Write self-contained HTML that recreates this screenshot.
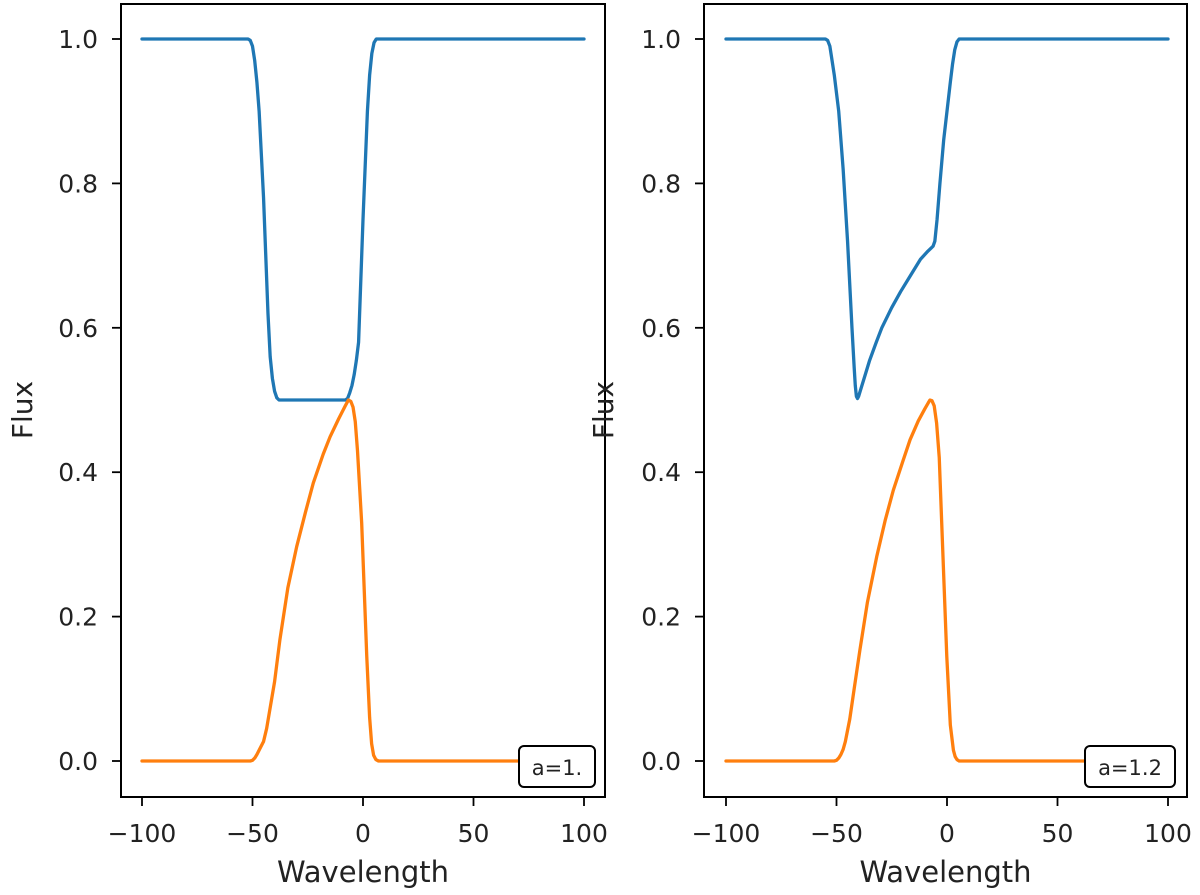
<!DOCTYPE html>
<html><head><meta charset="utf-8"><style>
body{margin:0;background:#fff}
svg{display:block;font-family:"DejaVu Sans","Liberation Sans",sans-serif}
</style></head><body>
<svg id="fig" width="1200" height="895" viewBox="0 0 1200 895"></svg>
<script>
const xTicks=[-100,-50,0,50,100];
const yTicks=[0.0,0.2,0.4,0.6,0.8,1.0];
const yTickLabels=["0.0","0.2","0.4","0.6","0.8","1.0"];
const leftBlueX=[-100,-52,-51,-50,-49,-48,-47,-45,-43,-42,-41,-40,-39,-38,-8,-7,-6,-5,-4,-3,-2,0,2,3,4,5,6,100];
const leftBlueY=[1,1,0.998,0.99,0.97,0.94,0.9,0.78,0.62,0.56,0.53,0.512,0.503,0.5,0.5,0.502,0.51,0.52,0.535,0.555,0.58,0.75,0.9,0.95,0.98,0.995,1,1];
const leftOrangeX=[-100,-51,-50,-49,-48,-47,-45,-43.6,-40,-37.6,-34,-30,-26,-22.5,-18,-14.9,-11,-8,-6.6,-5.5,-4.5,-3.5,-2.5,-0.6,1.7,3,3.9,4.8,5.8,7,100];
const leftOrangeY=[0,0,0.001,0.004,0.009,0.015,0.027,0.045,0.11,0.168,0.24,0.297,0.345,0.385,0.425,0.449,0.474,0.492,0.5,0.498,0.49,0.47,0.43,0.33,0.145,0.06,0.024,0.008,0.002,0,0];
const rightBlueX=[-100,-55,-54,-53,-52,-51,-49,-47,-45,-43,-42,-41.5,-41,-40.5,-40,-39,-37,-35,-32,-29.5,-25,-21,-16,-12,-9,-7,-6.3,-5.5,-4.5,-3.2,-1.5,0,1.5,2.5,3.5,4.5,5.5,100];
const rightBlueY=[1,1,0.998,0.99,0.97,0.95,0.9,0.82,0.72,0.6,0.545,0.52,0.505,0.502,0.505,0.515,0.535,0.555,0.58,0.6,0.628,0.65,0.675,0.695,0.705,0.711,0.713,0.72,0.75,0.8,0.86,0.9,0.94,0.965,0.985,0.996,1,1];
const rightOrangeX=[-100,-51,-50,-49,-48,-47,-46,-44,-42,-39.4,-36,-31.8,-28,-24.3,-20,-16.7,-13,-10,-8.5,-7.7,-6.8,-5.8,-4.7,-3.5,-2.4,-0.1,1.5,2.9,3.7,4.5,5.5,100];
const rightOrangeY=[0,0,0.001,0.004,0.009,0.016,0.027,0.058,0.1,0.154,0.22,0.283,0.333,0.375,0.415,0.445,0.471,0.488,0.496,0.5,0.499,0.492,0.468,0.42,0.33,0.145,0.05,0.015,0.006,0.002,0,0];
const panels=[
 {name:'left',L:121,R:605,x0:142,label:'a=1.',bx:[leftBlueX,leftBlueY],or:[leftOrangeX,leftOrangeY],ylabX:32,tickLabR:98,legX:519,legW:76},
 {name:'right',L:704,R:1187,x0:726,label:'a=1.2',bx:[rightBlueX,rightBlueY],or:[rightOrangeX,rightOrangeY],ylabX:613,tickLabR:681,legX:1085,legW:90}
];
const T=4,B=797,Y1=39,Y0=761,XS=2.21;
const NS='http://www.w3.org/2000/svg';
const svg=document.getElementById('fig');
function mk(tag,attrs,parent){const e=document.createElementNS(NS,tag);for(const k in attrs)e.setAttribute(k,attrs[k]);(parent||svg).appendChild(e);return e;}
function pathFrom(xs,ys,sx,sy){
 return xs.map((x,i)=>(i?'L':'M')+sx(x).toFixed(2)+','+sy(ys[i]).toFixed(2)).join(' ');
}
panels.forEach(p=>{
 const sx=x=>p.x0+(x+100)*XS;
 const sy=y=>Y0-(y)*(Y0-Y1);
 const g=mk('g',{});
 
 
 const blue=mk('path',{d:pathFrom(p.bx[0],p.bx[1],sx,sy),fill:'none',stroke:'#1f77b4','stroke-width':3.3,'stroke-linejoin':'round','stroke-linecap':'round'},g);
 
 
 const orng=mk('path',{d:pathFrom(p.or[0],p.or[1],sx,sy),fill:'none',stroke:'#ff7f0e','stroke-width':3.3,'stroke-linejoin':'round','stroke-linecap':'round'},g);
 
 
 const fr=mk('rect',{x:p.L,y:T,width:p.R-p.L,height:B-T,fill:'none',stroke:'#000','stroke-width':2},g);
 
 
 xTicks.forEach(v=>{
  mk('line',{x1:sx(v),x2:sx(v),y1:B,y2:B+9,stroke:'#000','stroke-width':1.8},g);
  const t=mk('text',{x:sx(v),y:842,'text-anchor':'middle','font-size':25,fill:'#222'},g);
  t.textContent=(v<0?'\u2212'+(-v):String(v));
  
  
 });
 yTicks.forEach((v,i)=>{
  mk('line',{x1:p.L-9,x2:p.L,y1:sy(v),y2:sy(v),stroke:'#000','stroke-width':1.8},g);
  const t=mk('text',{x:p.tickLabR,y:sy(v)+9,'text-anchor':'end','font-size':25,fill:'#222'},g);
  t.textContent=yTickLabels[i];
  
  
 });
 const xl=mk('text',{x:(p.L+p.R)/2,y:882,'text-anchor':'middle','font-size':29,fill:'#222'},g);
 xl.textContent='Wavelength';
 
 
 const yl=mk('text',{x:p.ylabX,y:410,'text-anchor':'middle','font-size':28,fill:'#222',transform:'rotate(-90 '+p.ylabX+' 410)'},g);
 yl.textContent='Flux';
 
 
 const lg=mk('g',{},g);
 
 
 mk('rect',{x:p.legX,y:746,width:p.legW,height:41,rx:5,fill:'#fff',stroke:'#000','stroke-width':2},lg);
 const lt=mk('text',{x:p.legX+p.legW/2,y:775,'text-anchor':'middle','font-size':21,fill:'#222'},lg);
 lt.textContent=p.label;
});
</script>
</body></html>
